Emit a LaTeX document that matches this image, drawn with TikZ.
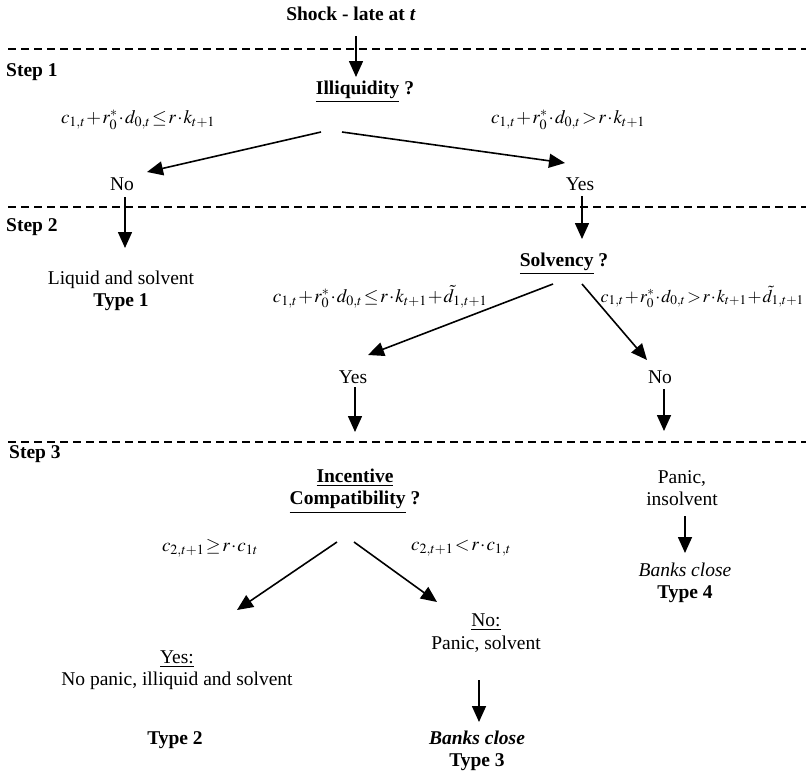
\documentclass[tikz,border=0pt]{standalone}
\usepackage{mathptmx}
\usepackage{fontspec}
\setmainfont{Liberation Serif}
\usetikzlibrary{arrows.meta}
\medmuskip=1mu
\thickmuskip=1.5mu

\begin{document}
\begin{tikzpicture}
[x=1pt,y=-1pt,
  txtDecorate/.style={font=\fontsize{19.5}{22.5}\selectfont,align=center,inner sep=1pt},%
  boldDecorate/.style={txtDecorate,font=\fontsize{19.5}{22.5}\selectfont\bfseries},%
  stepDecorate/.style={boldDecorate,anchor=west},%
  condDecorate/.style={txtDecorate,font=\fontsize{19}{22}\selectfont},%
  arrowDecorate/.style={line width=1.6pt,-{Triangle[length=16pt,width=14pt]}},%
  dashDecorate/.style={line width=2pt,dash pattern=on 8pt off 5pt}]
\useasboundingbox (0,0) rectangle (806,782);
%% step separators
\foreach \y in {49,207,442}
  \draw[dashDecorate] (8,\y) -- (806,\y);
\foreach \stepname/\x/\y/\num in {stepA/5/72/1, stepB/5/227/2, stepC/8/454/3}
  \node (\stepname) at (\x,\y) [stepDecorate] {Step \num};
%% questions and outcomes
\node (shock) at (351,14) [boldDecorate] {Shock - late at \textit{t}};
\node (illiq) at (365,92) [boldDecorate] {\underline{Illiquidity} ?};
\node (noA) at (122,184) [txtDecorate] {No};
\node (yesA) at (580,184) [txtDecorate] {Yes};
\node (liq) at (121,291) [txtDecorate] {Liquid and solvent\\\textbf{Type 1}};
\node (solv) at (564,264) [boldDecorate] {\underline{Solvency} ?};
\node (yesB) at (353,377) [txtDecorate] {Yes};
\node (noB) at (660,377) [txtDecorate] {No};
\node (incent) at (355,491) [boldDecorate] {\underline{Incentive}\\\underline{Compatibility} ?};
\node (panicA) at (682,488) [txtDecorate] {Panic,\\insolvent};
\node (closeA) at (685,583) [txtDecorate] {\textit{Banks close}\\\textbf{Type 4}};
\node (noC) at (486,633) [txtDecorate] {\underline{No:}\\Panic, solvent};
\node (yesC) at (177,670) [txtDecorate] {\underline{Yes:}\\No panic, illiquid and solvent};
\node (typeB) at (175,740) [boldDecorate] {Type 2};
\node (closeB) at (477,751) [boldDecorate] {\textit{Banks close}\\Type 3};
%% conditions
\node (condA) at (138,120) [condDecorate] {$c_{1,t}+r_0^*\cdot d_{0,t}\leq r\cdot k_{t+1}$};
\node (condB) at (568,120) [condDecorate] {$c_{1,t}+r_0^*\cdot d_{0,t}>r\cdot k_{t+1}$};
\node (condC) at (380,297) [condDecorate] {$c_{1,t}+r_0^*\cdot d_{0,t}\leq r\cdot k_{t+1}+\tilde{d}_{1,t+1}$};
\node (condD) at (805,297) [condDecorate,font=\fontsize{18}{22}\selectfont,anchor=east] {$c_{1,t}+r_0^*\cdot d_{0,t}>r\cdot k_{t+1}+\tilde{d}_{1,t+1}$};
\node (condE) at (210,548) [condDecorate] {$c_{2,t+1}\geq r\cdot c_{1t}$};
\node (condF) at (461,548) [condDecorate] {$c_{2,t+1}<r\cdot c_{1,t}$};
%% arrow ends
\foreach \pname/\x/\y in {
  shockS/356/36, illiqN/356/77, illiqL/321/132, noAN/147/172,
  illiqR/342/132, yesAN/565/163, noAS/125/197, liqN/125/248,
  yesAS/582/196, solvN/582/239, solvL/553/284, yesBN/368/355,
  solvR/582/284, noBN/647/360, yesBS/355/387, incentN/355/432,
  noBS/664/389, panicAN/664/431, panicAS/685/516, closeAN/685/553,
  incentL/337/542, yesCN/237/610, incentR/354/542, noCN/437/602,
  noCS/479/680, closeBN/479/722}
  \coordinate (\pname) at (\x,\y);
\path
\foreach \startnode/\endnode in {
  shockS/illiqN, illiqL/noAN, illiqR/yesAN, noAS/liqN, yesAS/solvN,
  solvL/yesBN, solvR/noBN, yesBS/incentN, noBS/panicAN,
  panicAS/closeAN, incentL/yesCN, incentR/noCN, noCS/closeBN}
{
  (\startnode) edge[arrowDecorate] (\endnode)
};
\end{tikzpicture}
\end{document}
